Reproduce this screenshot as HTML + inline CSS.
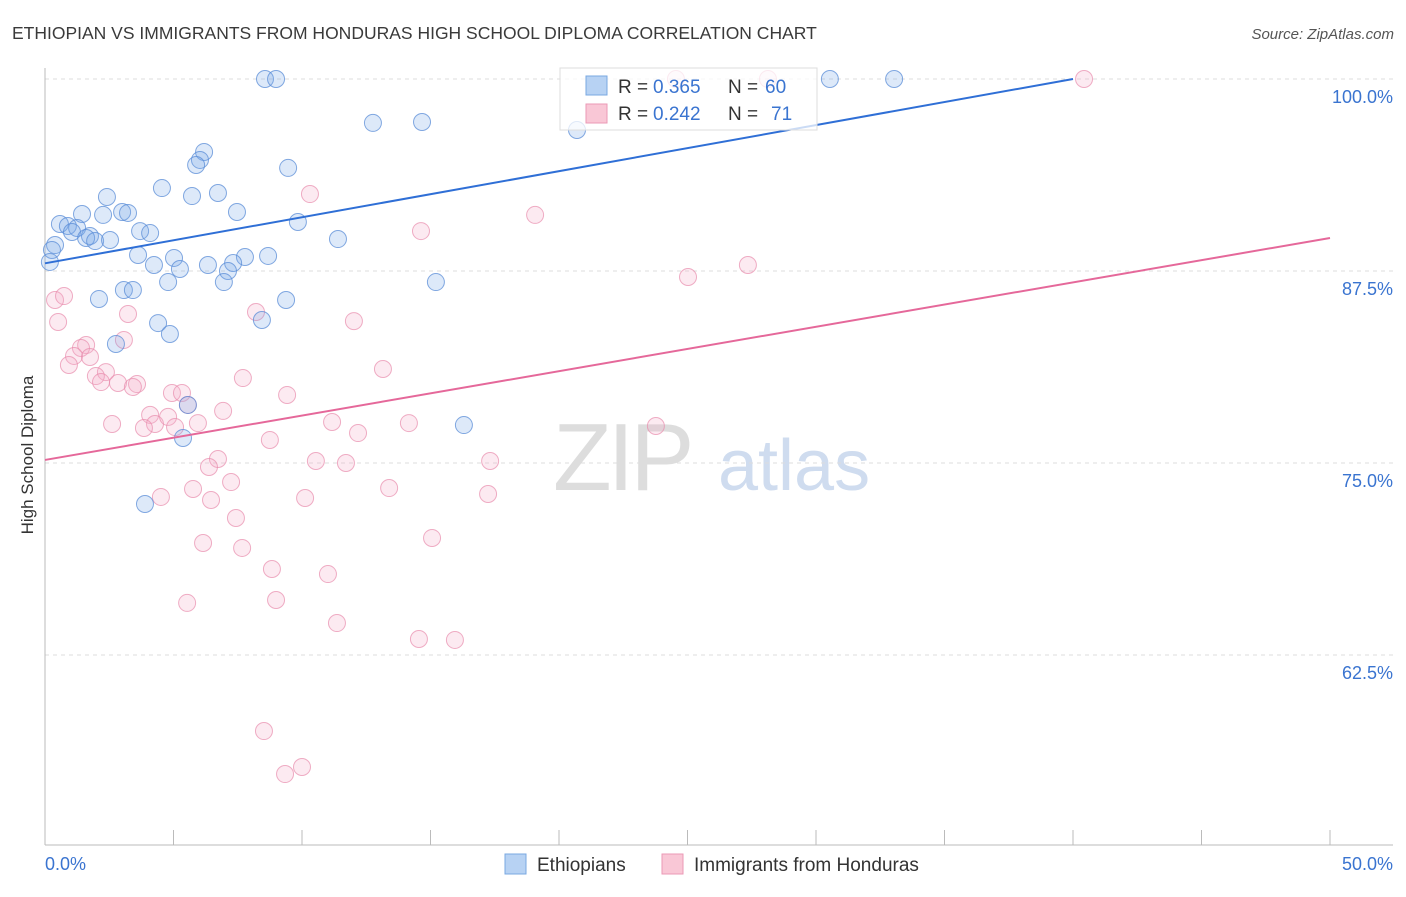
<!DOCTYPE html>
<html><head><meta charset="utf-8"><style>
body{margin:0;background:#fff;font-family:"Liberation Sans",sans-serif;}
svg text{font-family:"Liberation Sans",sans-serif;}
</style></head><body>
<svg id="chart" width="1406" height="892" viewBox="0 0 1406 892" xmlns="http://www.w3.org/2000/svg">
<text x="12" y="39" font-size="17.5" fill="#3a3a3a">ETHIOPIAN VS IMMIGRANTS FROM HONDURAS HIGH SCHOOL DIPLOMA CORRELATION CHART</text>
<text x="1394" y="39" font-size="15" fill="#555" text-anchor="end" font-style="italic">Source: ZipAtlas.com</text>
<text transform="translate(33,455) rotate(-90)" font-size="17" fill="#333" text-anchor="middle">High School Diploma</text>
<g>
<text x="553" y="490" font-size="96" fill="#ddd" font-family="Liberation Serif" letter-spacing="-4">ZIP</text>
<text x="718" y="490" font-size="72" fill="#cfdcef">atlas</text>
</g>
<g id="grid"></g>
<g id="axes"></g>
<g id="marks"></g>
<g>
<rect x="560" y="68" width="257" height="62" fill="#fff" fill-opacity="0.75" stroke="#ddd"/>
<rect x="586" y="76" width="21" height="19" fill="#b7d2f3" stroke="#7aa8e2"/>
<rect x="586" y="104" width="21" height="19" fill="#f9c7d6" stroke="#eb9ab6"/>
<text x="618" y="93" font-size="19" fill="#333">R = </text>
<text x="653" y="93" font-size="19" fill="#3a74d0">0.365</text>
<text x="728" y="93" font-size="19" fill="#333">N = </text>
<text x="765" y="93" font-size="19" fill="#3a74d0">60</text>
<text x="618" y="120" font-size="19" fill="#333">R = </text>
<text x="653" y="120" font-size="19" fill="#3a74d0">0.242</text>
<text x="728" y="120" font-size="19" fill="#333">N = </text>
<text x="771" y="120" font-size="19" fill="#3a74d0">71</text>
</g>
<g>
<rect x="505" y="854" width="21" height="20" fill="#b7d2f3" stroke="#7aa8e2"/>
<text x="537" y="871" font-size="19" fill="#333">Ethiopians</text>
<rect x="662" y="854" width="21" height="20" fill="#f9c7d6" stroke="#eb9ab6"/>
<text x="694" y="871" font-size="19" fill="#333">Immigrants from Honduras</text>
</g>
</svg>
<script>
const yTicks=[100,87.5,75,62.5];
const yTickLabels=["100.0%","87.5%","75.0%","62.5%"];
const xTickLabels=["0.0%","50.0%"];
const blueX=[8.56,8.99,30.54,33.04,12.76,14.67,20.70,6.19,6.03,5.88,9.46,4.55,2.41,5.72,6.73,7.47,3.00,3.23,2.26,1.44,9.84,0.58,0.89,1.25,1.05,1.75,1.60,1.95,2.53,3.70,4.09,11.40,0.39,0.27,0.19,3.62,5.02,7.78,8.68,4.24,5.25,6.34,7.32,7.12,4.79,6.96,15.21,3.07,3.42,2.10,9.38,8.44,4.40,4.86,2.76,5.56,16.30,5.37,3.89];
const blueY=[100,100,100,100,97.14,97.2,96.68,95.25,94.73,94.40,94.21,92.90,92.32,92.38,92.58,91.34,91.34,91.28,91.15,91.21,90.69,90.56,90.43,90.30,90.04,89.78,89.65,89.45,89.52,90.10,89.97,89.58,89.19,88.87,88.09,88.54,88.35,88.41,88.48,87.89,87.63,87.89,88.02,87.50,86.78,86.78,86.78,86.26,86.26,85.68,85.61,84.31,84.11,83.40,82.75,78.78,77.47,76.63,72.33];
const pinkX=[24.55,28.13,40.43,10.31,19.07,14.63,25.02,27.35,0.39,0.74,0.51,8.21,3.23,12.02,3.07,1.60,1.40,1.13,1.75,0.93,2.37,1.98,2.18,13.15,7.70,3.58,2.84,3.42,9.42,4.94,5.33,5.56,4.09,6.93,11.17,14.16,2.61,4.28,4.79,3.85,5.95,5.06,23.77,12.18,8.75,10.54,11.71,17.32,6.73,6.38,7.24,13.39,5.76,17.24,4.51,6.46,10.12,7.43,15.06,6.15,7.67,8.83,11.01,5.53,8.99,11.36,14.55,15.95,8.52,10.00,9.34];
const pinkY=[100,100,100,92.51,91.15,90.10,87.11,87.89,85.61,85.87,84.18,84.83,84.70,84.24,83.01,82.68,82.49,81.97,81.90,81.38,80.92,80.66,80.27,81.12,80.53,80.14,80.21,79.95,79.43,79.56,79.56,78.78,78.13,78.39,77.67,77.60,77.54,77.54,78.00,77.28,77.60,77.34,77.41,76.95,76.50,75.13,75.00,75.13,75.26,74.74,73.76,73.37,73.31,72.98,72.79,72.59,72.72,71.42,70.12,69.79,69.47,68.10,67.77,65.89,66.08,64.58,63.54,63.48,57.55,55.21,54.75];
const blueTrend=[[0,88.0],[40.0,100]];
const pinkTrend=[[0,75.2],[50,89.65]];
const NS="http://www.w3.org/2000/svg";
const X=v=>45+v/50*1285;
const Y=v=>79+(100-v)*15.36;
function mk(tag,attrs,parent){const e=document.createElementNS(NS,tag);for(const k in attrs)e.setAttribute(k,attrs[k]);parent.appendChild(e);return e;}
const grid=document.getElementById('grid'),axes=document.getElementById('axes'),marks=document.getElementById('marks');
yTicks.forEach((t,i)=>{
 const l=mk('line',{x1:45,x2:1393,y1:Y(t),y2:Y(t),stroke:'#ddd','stroke-dasharray':'4,4'},grid);
 
 
 const tx=mk('text',{x:1393,y:Y(t)+24,'font-size':18,fill:'#3a74d0','text-anchor':'end'},axes);
 tx.textContent=yTickLabels[i];
 
 
});
const ax=mk('line',{x1:45,x2:1393,y1:845,y2:845,stroke:'#bbb'},axes);


const ay=mk('line',{x1:45,x2:45,y1:68,y2:845,stroke:'#bbb'},axes);


for(let i=0;i<=10;i++){
 const tk=mk('line',{x1:X(i*5),x2:X(i*5),y1:830,y2:845,stroke:'#bbb'},axes);
 
 
}
[[0,'start',45],[1,'end',1393]].forEach(([i,a,x])=>{
 const t=mk('text',{x:x,y:870,'font-size':18,fill:'#3a74d0','text-anchor':a},axes);
 t.textContent=xTickLabels[i];
 
 
});
pinkX.forEach((v,i)=>{
 const c=mk('circle',{cx:X(v),cy:Y(pinkY[i]),r:8.5,fill:'rgba(245,170,198,0.25)',stroke:'rgba(232,140,172,0.7)','stroke-width':1},marks);
 
 
});
blueX.forEach((v,i)=>{
 const c=mk('circle',{cx:X(v),cy:Y(blueY[i]),r:8.5,fill:'rgba(120,168,232,0.25)',stroke:'rgba(90,140,215,0.75)','stroke-width':1},marks);
 
 
});
const bl=mk('line',{x1:X(blueTrend[0][0]),y1:Y(blueTrend[0][1]),x2:X(blueTrend[1][0]),y2:Y(blueTrend[1][1]),stroke:'#2f6fd6','stroke-width':2},marks);


const pl=mk('line',{x1:X(pinkTrend[0][0]),y1:Y(pinkTrend[0][1]),x2:X(pinkTrend[1][0]),y2:Y(pinkTrend[1][1]),stroke:'#e5689a','stroke-width':2},marks);


</script>
</body></html>
